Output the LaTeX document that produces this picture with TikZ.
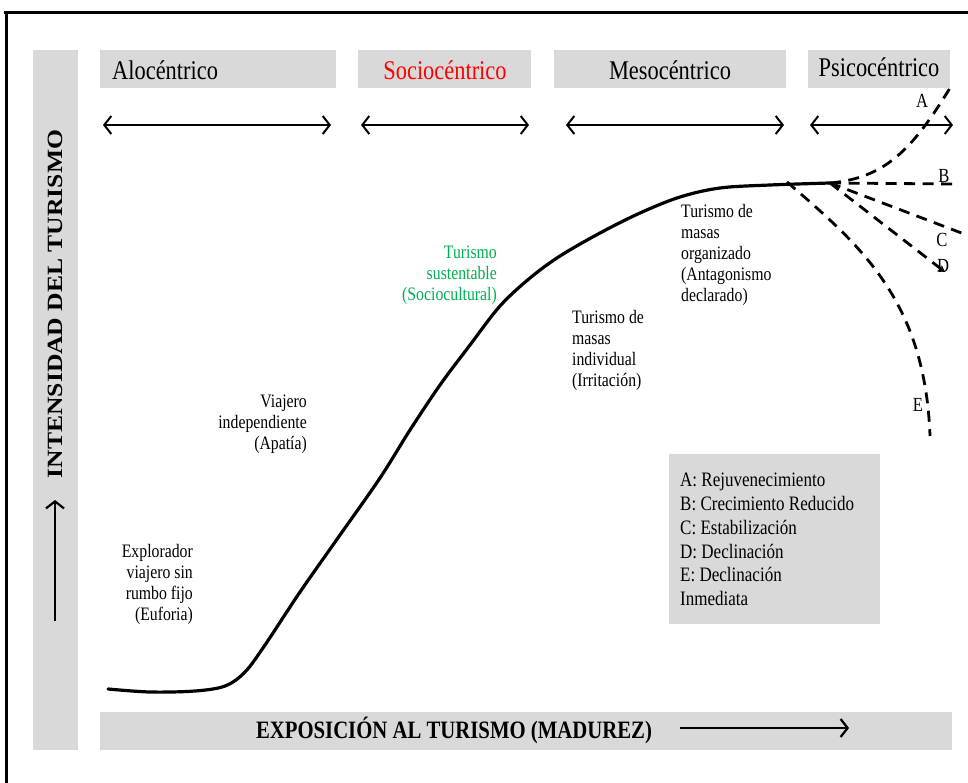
\documentclass[tikz,border=0pt]{standalone}
\usepackage{fontspec}
\setmainfont{Liberation Serif}[FakeStretch=0.83]
\newfontfamily\plainserif{Liberation Serif}
\usepackage{graphicx}
\usetikzlibrary{arrows.meta}
\definecolor{panelgray}{HTML}{D9D9D9}
\definecolor{sustgreen}{HTML}{00B050}
\definecolor{socred}{HTML}{FF0000}
\begin{document}
\begin{tikzpicture}[x=1pt,y=-1pt,
  panel/.style={fill=panelgray,draw=none,inner sep=0pt,anchor=north west},
  stage/.style={font=\fontsize{27}{30}\selectfont,inner sep=0pt},
  phase/.style={font=\fontsize{19}{21}\selectfont,inner sep=0pt},
  branchlbl/.style={font=\fontsize{20}{22}\selectfont,inner sep=0pt},
  barb/.tip={Straight Barb[length=7pt,width=18pt]},
  span/.style={line width=2pt,barb-barb},
  axisarrow/.style={line width=2.2pt,-barb},
  growth/.style={line width=3.2pt,line cap=round,line join=round},
  branch/.style={line width=2.8pt,dash pattern=on 11pt off 7.5pt}
]
\useasboundingbox (0,0) rectangle (968,783);

% outer frame
\draw[line width=3pt] (4,12.5) -- (975,12.5);
\draw[line width=2.5pt] (6.5,11) -- (6.5,790);

% gray panels
\node[panel,minimum width=45,minimum height=700] (yaxis) at (33,50) {};
\node[panel,minimum width=236,minimum height=38] (alo) at (100,50) {};
\node[panel,minimum width=173,minimum height=38] (soc) at (358,50) {};
\node[panel,minimum width=232,minimum height=38] (meso) at (554,50) {};
\node[panel,minimum width=142,minimum height=38] (psi) at (808,50) {};
\node[panel,minimum width=852,minimum height=38] (xaxis) at (100,712) {};
\node[panel,minimum width=211,minimum height=170] (legend) at (669,454) {};

% stage titles
\node[stage,anchor=west] (alotxt) at (112,70) {Alocéntrico};
\node[stage,text=socred] (soctxt) at (445,70) {Sociocéntrico};
\node[stage] (mesotxt) at (670,70) {Mesocéntrico};
\node[stage] (psitxt) at (879,67) {Psicocéntrico};

% stage spans
\coordinate (s1a) at (103,125); \coordinate (s1b) at (331,125);
\coordinate (s2a) at (361,125); \coordinate (s2b) at (529,125);
\coordinate (s3a) at (566,125); \coordinate (s3b) at (784,125);
\coordinate (s4a) at (810,125); \coordinate (s4b) at (953,125);
\draw[span] (s1a) -- (s1b);
\draw[span] (s2a) -- (s2b);
\draw[span] (s3a) -- (s3b);
\draw[span] (s4a) -- (s4b);

% vertical axis
\node[rotate=90,inner sep=0pt] (ylabel) at (55,304)
  {\scalebox{1}[0.85]{\plainserif\bfseries\fontsize{25.6}{28}\selectfont INTENSIDAD DEL TURISMO}};
\coordinate (ya) at (55,621); \coordinate (yb) at (55,500);
\draw[axisarrow] (ya) -- (yb);

% horizontal axis
\node[inner sep=0pt,font=\bfseries\fontsize{25}{28}\selectfont] (xlabel) at (454,730)
  {EXPOSICIÓN AL TURISMO (MADUREZ)};
\coordinate (xa) at (680,728); \coordinate (xb) at (849,728);
\draw[axisarrow] (xa) -- (xb);

% growth curve
\coordinate (fork) at (830,183);
\coordinate (forkE) at (787,182);
\draw[growth] plot[smooth,tension=0.55] coordinates {
  (108,689) (150,692) (195,691) (225,686) (245,672) (265,645) (300,592)
  (340,535) (380,478) (410,430) (440,385) (470,345) (500,306) (530,278)
  (560,256) (600,233) (640,213) (680,197) (720,188) (770,185) (830,183)};

% development paths after saturation
\draw[branch] (fork) .. controls (885,178) and (912,150) .. (950,88);
\draw[branch] (fork) -- (956,184);
\draw[branch] (fork) -- (972,237);
\draw[branch,-{Stealth[length=7pt,width=7pt]}] (fork) -- (945,272);
\draw[branch] (forkE) .. controls (860,245) and (925,300) .. (930,436);

\node[branchlbl] (la) at (922,101) {A};
\node[branchlbl] (lb) at (944,176) {B};
\node[branchlbl] (lc) at (942,240) {C};
\node[branchlbl] (ld) at (943,266) {D};
\node[branchlbl] (le) at (918,405) {E};

% traveller phases
\node[phase,align=right,anchor=north east] (p1) at (193,544)
  {Explorador\\viajero sin\\rumbo fijo\\(Euforia)};
\node[phase,align=right,anchor=north east] (p2) at (307,395)
  {Viajero\\independiente\\(Apatía)};
\node[phase,align=right,anchor=north east,text=sustgreen] (p3) at (497,246)
  {Turismo\\sustentable\\(Sociocultural)};
\node[phase,align=left,anchor=north west] (p4) at (572,310)
  {Turismo de\\masas\\individual\\(Irritación)};
\node[phase,align=left,anchor=north west] (p5) at (681,204)
  {Turismo de\\masas\\organizado\\(Antagonismo\\declarado)};

% legend
\node[inner sep=0pt,align=left,anchor=north west,font=\fontsize{20.5}{23.8}\selectfont] (legendtxt) at (680,473)
  {A: Rejuvenecimiento\\B: Crecimiento Reducido\\C: Estabilización\\D: Declinación\\E: Declinación\\Inmediata};
\end{tikzpicture}
\end{document}
